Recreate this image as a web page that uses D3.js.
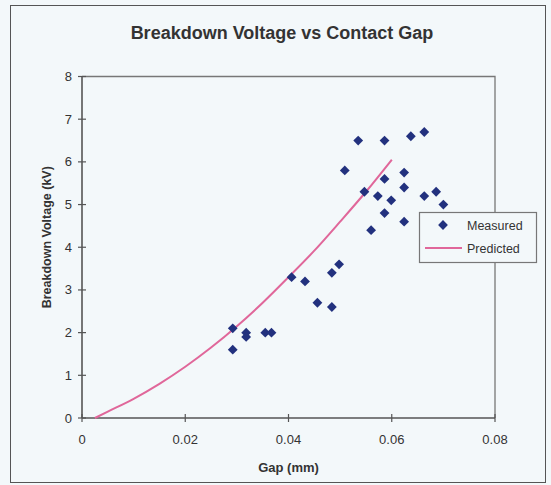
<!DOCTYPE html>
<html>
<head>
<meta charset="utf-8">
<script src="https://cdn.jsdelivr.net/npm/d3@7"></script>
<style>
  body { margin: 0; background: #f3f8fa; }
  text { font-family: "Liberation Sans", Arial, sans-serif; fill: #333; }
</style>
</head>
<body>
<script>
// measured points (gap in mm, breakdown voltage in kV)
const measuredGap = [0.0292, 0.0292, 0.0318, 0.0318, 0.0355, 0.0367, 0.0406, 0.0432, 0.0456, 0.0484,
  0.0484, 0.0498, 0.0509, 0.0535, 0.0547, 0.0560, 0.0573, 0.0586, 0.0586, 0.0586,
  0.0599, 0.0624, 0.0624, 0.0624, 0.0637, 0.0663, 0.0663, 0.0686, 0.0700];
const measuredKV = [2.1, 1.6, 2.0, 1.9, 2.0, 2.0, 3.3, 3.2, 2.7, 2.6,
  3.4, 3.6, 5.8, 6.5, 5.3, 4.4, 5.2, 6.5, 5.6, 4.8,
  5.1, 5.75, 5.4, 4.6, 6.6, 6.7, 5.2, 5.3, 5.0];

// predicted curve
const predictedGap = [0.0025, 0.005, 0.01, 0.015, 0.02, 0.025, 0.03, 0.035, 0.04, 0.045, 0.05, 0.055, 0.06];
const predictedKV = [0, 0.15, 0.45, 0.8, 1.2, 1.65, 2.15, 2.7, 3.3, 3.92, 4.6, 5.3, 6.05];

const xTicks = [0, 0.02, 0.04, 0.06, 0.08];
const yTicks = [0, 1, 2, 3, 4, 5, 6, 7, 8];

const W = 551, H = 485;
const plot = { left: 82, right: 495, top: 76.5, bottom: 418 };

const svg = d3.select("body").append("svg")
  .attr("width", W)
  .attr("height", H);

// outer chart frame
svg.append("rect")
  .attr("x", 10.5).attr("y", 5.5)
  .attr("width", 535).attr("height", 477)
  .attr("fill", "#f3f8fa")
  .attr("stroke", "#555").attr("stroke-width", 1);

const x = d3.scaleLinear().domain([0, 0.08]).range([plot.left, plot.right]);
const y = d3.scaleLinear().domain([0, 8]).range([plot.bottom, plot.top]);

// plot frame (top and right are lighter)
svg.append("path")
  .attr("d", `M${plot.left},${y(8)}H${x(0.08)}V${y(0)}`)
  .attr("fill", "none").attr("stroke", "#777").attr("stroke-width", 1.3);

// axes
const axisColor = "#555";
svg.append("line")
  .attr("x1", x(0)).attr("x2", x(0.08)).attr("y1", y(0)).attr("y2", y(0))
  .attr("stroke", axisColor).attr("stroke-width", 1.6);
svg.append("line")
  .attr("x1", x(0)).attr("x2", x(0)).attr("y1", y(0)).attr("y2", y(8))
  .attr("stroke", axisColor).attr("stroke-width", 1.6);

// cross ticks
svg.selectAll(".xtick").data(xTicks).enter().append("line")
  .attr("x1", d => x(d)).attr("x2", d => x(d))
  .attr("y1", y(0) - 4).attr("y2", y(0) + 4)
  .attr("stroke", axisColor).attr("stroke-width", 1.2);
svg.selectAll(".ytick").data(yTicks).enter().append("line")
  .attr("x1", x(0) - 4).attr("x2", x(0) + 4)
  .attr("y1", d => y(d)).attr("y2", d => y(d))
  .attr("stroke", axisColor).attr("stroke-width", 1.2);

// tick labels
svg.selectAll(".xlab").data(xTicks).enter().append("text")
  .attr("x", d => x(d)).attr("y", y(0) + 26)
  .attr("text-anchor", "middle")
  .style("font-size", "13px")
  .text(d => d === 0 ? "0" : d3.format(".2f")(d));
svg.selectAll(".ylab").data(yTicks).enter().append("text")
  .attr("x", x(0) - 10).attr("y", d => y(d) + 4.5)
  .attr("text-anchor", "end")
  .style("font-size", "13px")
  .text(d => d);

// titles
svg.append("text")
  .attr("x", 282).attr("y", 39)
  .attr("text-anchor", "middle")
  .style("font-size", "18px").style("font-weight", "bold")
  .text("Breakdown Voltage vs Contact Gap");

svg.append("text")
  .attr("x", (plot.left + plot.right) / 2).attr("y", 472)
  .attr("text-anchor", "middle")
  .style("font-size", "13px").style("font-weight", "bold")
  .text("Gap (mm)");

svg.append("text")
  .attr("transform", `translate(51,${(plot.top + plot.bottom) / 2 - 10}) rotate(-90)`)
  .attr("text-anchor", "middle")
  .style("font-size", "12.5px").style("font-weight", "bold")
  .text("Breakdown Voltage (kV)");

// predicted curve
const line = d3.line()
  .x((d, i) => x(predictedGap[i]))
  .y(d => y(d))
  .curve(d3.curveMonotoneX);

svg.append("path")
  .datum(predictedKV)
  .attr("d", line)
  .attr("fill", "none")
  .attr("stroke", "#e0679a")
  .attr("stroke-width", 2);

// measured points
const markerColor = "#22317e";
const diamond = d3.symbol().type(d3.symbolSquare).size(48);

svg.selectAll(".pt").data(measuredKV).enter().append("path")
  .attr("d", diamond)
  .attr("transform", (d, i) => `translate(${x(measuredGap[i])},${y(d)}) rotate(45)`)
  .attr("fill", markerColor);

// legend
const lg = svg.append("g");
lg.append("rect")
  .attr("x", 419.5).attr("y", 212.5)
  .attr("width", 117).attr("height", 50)
  .attr("fill", "#f3f8fa")
  .attr("stroke", "#777").attr("stroke-width", 1.2);
lg.append("path")
  .attr("d", diamond)
  .attr("transform", "translate(443,225) rotate(45)")
  .attr("fill", markerColor);
lg.append("text")
  .attr("x", 467).attr("y", 230)
  .style("font-size", "12.5px")
  .text("Measured");
lg.append("line")
  .attr("x1", 425).attr("x2", 462).attr("y1", 248).attr("y2", 248)
  .attr("stroke", "#e0679a").attr("stroke-width", 2);
lg.append("text")
  .attr("x", 467).attr("y", 253)
  .style("font-size", "12.5px")
  .text("Predicted");
</script>
</body>
</html>
